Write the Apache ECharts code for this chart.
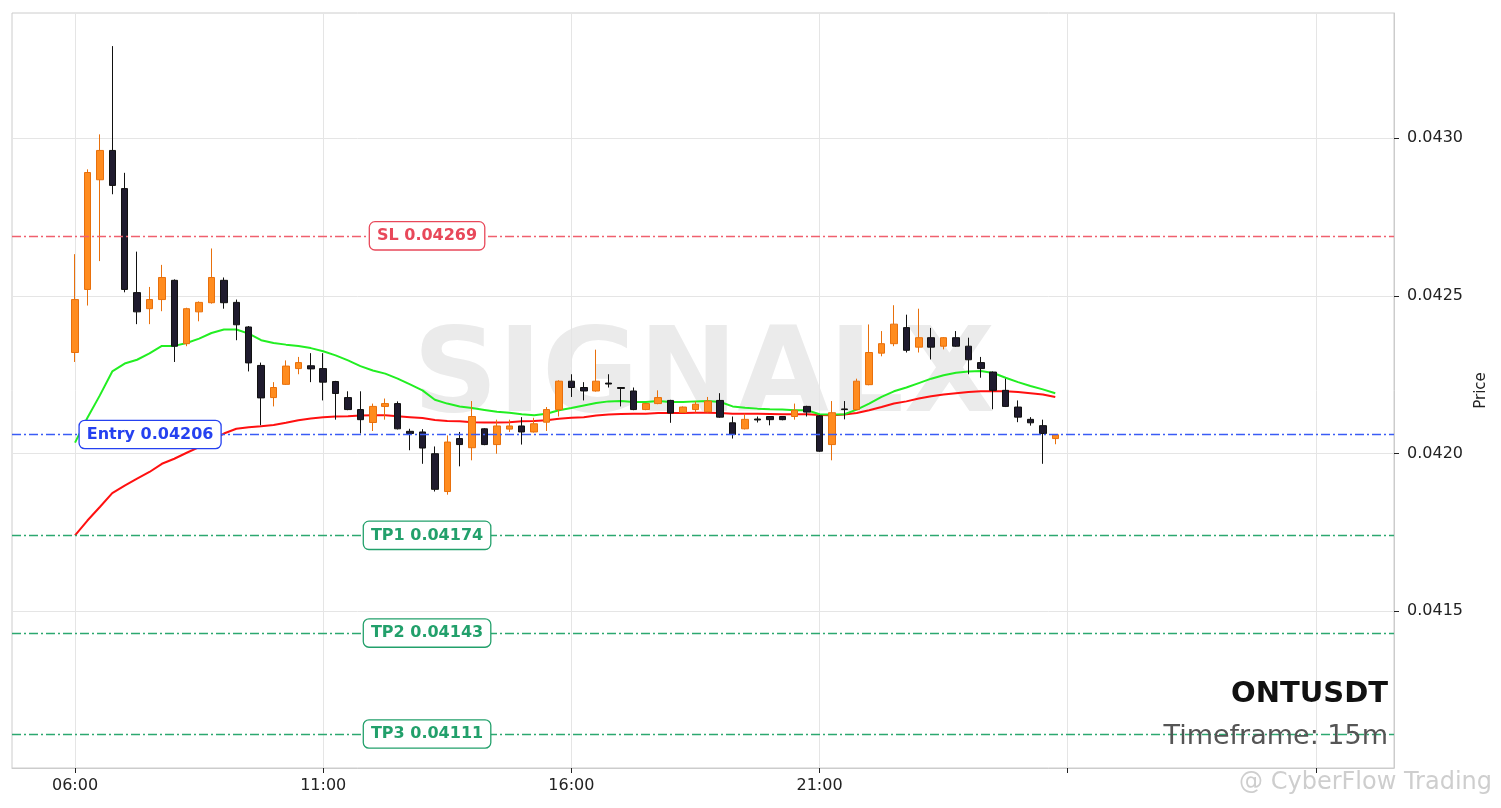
<!DOCTYPE html>
<html>
<head>
<meta charset="utf-8">
<script src="https://cdn.jsdelivr.net/npm/echarts@6/dist/echarts.min.js"></script>
<style>
  html, body { margin: 0; padding: 0; background: #fff; }
  #chart { width: 1501px; height: 808px; }
</style>
</head>
<body>
<div id="chart"></div>
<script>
// ---- data ----
const times = [
  '06:00','06:15','06:30','06:45','07:00','07:15','07:30','07:45','08:00','08:15',
  '08:30','08:45','09:00','09:15','09:30','09:45','10:00','10:15','10:30','10:45',
  '11:00','11:15','11:30','11:45','12:00','12:15','12:30','12:45','13:00','13:15',
  '13:30','13:45','14:00','14:15','14:30','14:45','15:00','15:15','15:30','15:45',
  '16:00','16:15','16:30','16:45','17:00','17:15','17:30','17:45','18:00','18:15',
  '18:30','18:45','19:00','19:15','19:30','19:45','20:00','20:15','20:30','20:45',
  '21:00','21:15','21:30','21:45','22:00','22:15','22:30','22:45','23:00','23:15',
  '23:30','23:45','00:00','00:15','00:30','00:45','01:00','01:15','01:30','01:45'
];
const open = [
  0.042320,0.042520,0.042868,0.042961,0.042840,0.042510,0.042459,0.042488,0.042549,0.042348,
  0.042449,0.042478,0.042549,0.042479,0.042401,0.042279,0.042177,0.042219,0.042269,0.042278,
  0.042269,0.042228,0.042177,0.042139,0.042098,0.042149,0.042158,0.042070,0.042068,0.041999,
  0.041879,0.042047,0.042018,0.042078,0.042028,0.042077,0.042087,0.042068,0.042099,0.042139,
  0.042229,0.042209,0.042198,0.042223,0.042209,0.042198,0.042139,0.042158,0.042168,0.042130,
  0.042139,0.042132,0.042168,0.042097,0.042078,0.042109,0.042117,0.042117,0.042117,0.042149,
  0.042119,0.042028,0.042141,0.042139,0.042218,0.042318,0.042348,0.042399,0.042337,0.042367,
  0.042340,0.042367,0.042340,0.042288,0.042258,0.042200,0.042147,0.042108,0.042088,0.042047
];
const close = [
  0.042488,0.042891,0.042961,0.042850,0.042520,0.042449,0.042488,0.042558,0.042340,0.042459,
  0.042479,0.042558,0.042478,0.042408,0.042287,0.042176,0.042209,0.042277,0.042288,0.042268,
  0.042226,0.042190,0.042139,0.042107,0.042149,0.042158,0.042078,0.042063,0.042017,0.041886,
  0.042036,0.042028,0.042117,0.042028,0.042087,0.042087,0.042068,0.042094,0.042139,0.042229,
  0.042209,0.042198,0.042229,0.042220,0.042206,0.042139,0.042158,0.042177,0.042128,0.042147,
  0.042156,0.042166,0.042115,0.042060,0.042108,0.042106,0.042107,0.042107,0.042137,0.042131,
  0.042007,0.042129,0.042139,0.042229,0.042320,0.042348,0.042410,0.042327,0.042367,0.042337,
  0.042367,0.042340,0.042297,0.042269,0.042200,0.042149,0.042115,0.042097,0.042063,0.042059
];
const low = [
  0.042290,0.042469,0.042610,0.042822,0.042511,0.042410,0.042410,0.042451,0.042290,0.042340,
  0.042419,0.042475,0.042459,0.042359,0.042260,0.042089,0.042149,0.042217,0.042251,0.042226,
  0.042168,0.042107,0.042137,0.042063,0.042071,0.042107,0.042076,0.042010,0.041967,0.041879,
  0.041869,0.041959,0.041978,0.042026,0.041999,0.042068,0.042028,0.042066,0.042071,0.042117,
  0.042179,0.042168,0.042196,0.042209,0.042149,0.042137,0.042137,0.042156,0.042097,0.042128,
  0.042130,0.042130,0.042113,0.042047,0.042076,0.042098,0.042089,0.042105,0.042107,0.042117,
  0.042005,0.041978,0.042108,0.042137,0.042216,0.042308,0.042340,0.042320,0.042320,0.042298,
  0.042330,0.042338,0.042251,0.042240,0.042140,0.042147,0.042099,0.042088,0.041967,0.042029
];
const high = [
  0.042632,0.042901,0.043012,0.043292,0.042890,0.042640,0.042528,0.042598,0.042552,0.042462,
  0.042482,0.042650,0.042558,0.042488,0.042404,0.042288,0.042226,0.042295,0.042306,0.042318,
  0.042318,0.042230,0.042197,0.042197,0.042158,0.042174,0.042165,0.042078,0.042077,0.042022,
  0.042057,0.042068,0.042166,0.042080,0.042107,0.042107,0.042115,0.042113,0.042147,0.042232,
  0.042251,0.042226,0.042329,0.042251,0.042210,0.042209,0.042160,0.042200,0.042170,0.042149,
  0.042165,0.042179,0.042191,0.042117,0.042126,0.042117,0.042118,0.042118,0.042158,0.042151,
  0.042121,0.042166,0.042166,0.042237,0.042409,0.042388,0.042470,0.042440,0.042459,0.042398,
  0.042369,0.042388,0.042367,0.042306,0.042260,0.042237,0.042168,0.042115,0.042107,0.042061
];
const emaFast = [
  0.042034,0.042113,0.042184,0.042260,0.042285,0.042297,0.042317,0.042341,0.042341,0.042350,
  0.042364,0.042382,0.042393,0.042393,0.042380,0.042359,0.042350,0.042345,0.042341,0.042334,
  0.042324,0.042311,0.042295,0.042277,0.042263,0.042253,0.042237,0.042219,0.042200,0.042170,
  0.042158,0.042149,0.042144,0.042138,0.042132,0.042129,0.042124,0.042121,0.042126,0.042137,
  0.042144,0.042152,0.042160,0.042165,0.042166,0.042163,0.042163,0.042166,0.042163,0.042163,
  0.042165,0.042166,0.042163,0.042149,0.042145,0.042142,0.042140,0.042139,0.042137,0.042137,
  0.042124,0.042123,0.042124,0.042139,0.042158,0.042179,0.042197,0.042209,0.042223,0.042237,
  0.042248,0.042256,0.042260,0.042261,0.042255,0.042240,0.042226,0.042214,0.042203,0.042191
];
const emaSlow = [
  0.041740,0.041787,0.041830,0.041874,0.041898,0.041920,0.041941,0.041967,0.041983,0.042002,
  0.042020,0.042041,0.042063,0.042078,0.042083,0.042086,0.042090,0.042097,0.042105,0.042111,
  0.042115,0.042117,0.042118,0.042120,0.042121,0.042121,0.042118,0.042115,0.042112,0.042106,
  0.042103,0.042102,0.042099,0.042098,0.042098,0.042099,0.042102,0.042103,0.042105,0.042110,
  0.042113,0.042115,0.042120,0.042123,0.042125,0.042126,0.042126,0.042128,0.042128,0.042128,
  0.042129,0.042129,0.042128,0.042126,0.042126,0.042126,0.042125,0.042124,0.042124,0.042124,
  0.042122,0.042121,0.042123,0.042128,0.042137,0.042147,0.042158,0.042165,0.042174,0.042181,
  0.042187,0.042191,0.042195,0.042197,0.042197,0.042197,0.042195,0.042191,0.042187,0.042179
];
const levelNames  = ['SL', 'Entry', 'TP1', 'TP2', 'TP3'];
const levelValues = [0.04269, 0.04206, 0.04174, 0.04143, 0.04111];
const xTickIndex  = [0, 20, 40, 60, 80, 100];
const xTickLabels = ['06:00', '11:00', '16:00', '21:00', '', ''];
const yTickValues = [0.0415, 0.0420, 0.0425, 0.0430];
const symbol = 'ONTUSDT';
const timeframe = '15m';

// ---- chart ----
const levelColors = {
  SL:    { line: '#f0606e', text: '#e8485a' },
  Entry: { line: '#3a5cf5', text: '#2541f0' },
  TP:    { line: '#2ca870', text: '#22a06b' }
};
const colorOf = n => n === 'SL' ? levelColors.SL : (n === 'Entry' ? levelColors.Entry : levelColors.TP);
const labelAnchor = n => n === 'Entry' ? 6.05 : 28.37;

const candleData = times.map((t, i) => [i, open[i], close[i], low[i], high[i]]);
const fastData = emaFast.map((v, i) => [i, v]);
const slowData = emaSlow.map((v, i) => [i, v]);

const chart = echarts.init(document.getElementById('chart'), null, { renderer: 'canvas' });
const FONT = 'DejaVu Sans';

chart.setOption({
  animation: false,
  backgroundColor: '#ffffff',
  grid: { left: 12, right: 107, top: 13, bottom: 40, show: true, borderColor: '#cccccc', borderWidth: 1 },
  xAxis: {
    type: 'value',
    min: -5.08, max: 106.3,
    axisLine: { show: true, onZero: false, lineStyle: { color: '#cccccc' } },
    axisTick: { show: true, length: 5, lineStyle: { color: '#222' }, customValues: xTickIndex },
    axisLabel: {
      customValues: xTickIndex.slice(0, 4),
      formatter: v => xTickLabels[xTickIndex.indexOf(Math.round(v))] || '',
      color: '#222', fontSize: 16, fontFamily: FONT,
      margin: 10
    },
    splitLine: { show: true, lineStyle: { color: '#e5e5e5', width: 1 } }
  },
  yAxis: {
    type: 'value',
    position: 'right',
    min: 0.041002, max: 0.043397,
    name: 'Price', nameLocation: 'middle', nameRotate: 90, nameGap: 80,
    nameTextStyle: { color: '#222', fontSize: 15, fontFamily: FONT },
    axisLine: { show: true, onZero: false, lineStyle: { color: '#cccccc' } },
    axisTick: { show: true, length: 5, lineStyle: { color: '#222' }, customValues: yTickValues },
    axisLabel: {
      customValues: yTickValues,
      formatter: v => v.toFixed(4),
      color: '#222', fontSize: 16, fontFamily: FONT, margin: 13
    },
    splitLine: { show: true, lineStyle: { color: '#e5e5e5', width: 1 } }
  },
  graphic: [
    { type: 'text', x: 704, y: 380, z: -10, silent: true,
      style: { text: 'SIGNALX', align: 'center', verticalAlign: 'middle',
               font: 'bold 118px "DejaVu Sans"', fill: '#ebebeb' } },
    { type: 'text', x: 1388, y: 694, z: 50,
      style: { text: symbol, align: 'right', verticalAlign: 'middle',
               font: 'bold 29px "DejaVu Sans"', fill: '#111111' } },
    { type: 'text', x: 1388, y: 737, z: 50,
      style: { text: 'Timeframe: ' + timeframe, align: 'right', verticalAlign: 'middle',
               font: '27px "DejaVu Sans"', fill: '#555555' } },
    { type: 'text', x: 1492, y: 783, z: 50,
      style: { text: '@ CyberFlow Trading', align: 'right', verticalAlign: 'middle',
               font: '24px "DejaVu Sans"', fill: 'rgba(185,185,185,0.7)' } }
  ],
  series: [
    {
      name: 'EMA slow', type: 'line', data: slowData, showSymbol: false, symbol: 'none',
      lineStyle: { color: '#ff1010', width: 2 }, z: 2, silent: true
    },
    {
      name: 'EMA fast', type: 'line', data: fastData, showSymbol: false, symbol: 'none',
      lineStyle: { color: '#22ee22', width: 2 }, z: 2, silent: true
    },
    {
      name: symbol, type: 'candlestick', data: candleData, barWidth: 7, z: 3,
      itemStyle: {
        color: '#ff8c1f', color0: '#1f1b2e',
        borderColor: '#e8700c', borderColor0: '#111111', borderWidth: 1
      }
    },
    {
      name: 'levels', type: 'line', data: [], z: 4, silent: true,
      markLine: {
        symbol: ['none', 'none'], silent: true, animation: false, precision: 6,
        label: { show: false },
        data: levelNames.map((n, i) => ({
          yAxis: levelValues[i],
          lineStyle: { color: colorOf(n).line, width: 1.4, type: [9, 3, 2, 3] }
        }))
      },
      markPoint: {
        silent: true, animation: false,
        symbol: 'rect', symbolSize: 1,
        itemStyle: { color: 'rgba(0,0,0,0)' },
        data: levelNames.map((n, i) => ({
          coord: [labelAnchor(n), levelValues[i]],
          label: {
            show: true, position: 'inside',
            formatter: n + ' ' + levelValues[i].toFixed(5),
            color: colorOf(n).text, fontWeight: 'bold', fontSize: 16, fontFamily: FONT,
            backgroundColor: '#ffffff', borderColor: colorOf(n).text, borderWidth: 1.3,
            borderRadius: 5, padding: [6, 7, 5, 7]
          }
        }))
      }
    }
  ]
});
</script>
</body>
</html>
